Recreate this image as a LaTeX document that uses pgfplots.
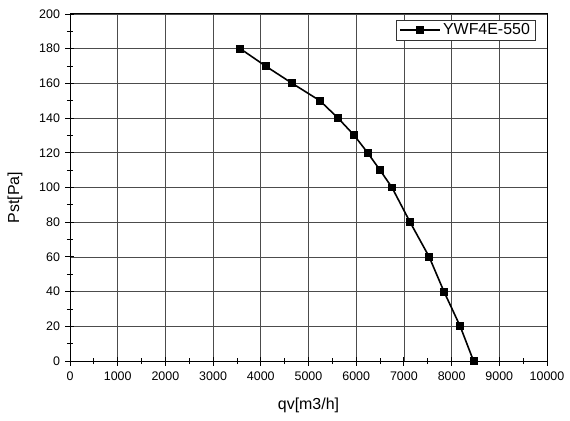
\documentclass[border=0pt]{standalone}
\usepackage{fontspec}
\setmainfont{Liberation Sans}
\usepackage{pgfplots}
\pgfplotsset{compat=1.18}
\begin{document}
\begin{tikzpicture}
\begin{axis}[
    name=ax,
    scale only axis,
    width=477bp,
    height=347bp,
    xmin=0, xmax=10000,
    ymin=0, ymax=200,
    xtick distance=1000,
    ytick distance=20,
    minor x tick num=1,
    minor y tick num=1,
    xtick pos=bottom,
    ytick pos=left,
    tick align=center,
    major tick length=9bp,
    minor tick length=6bp,
    every tick/.style={black, line width=0.9pt},
    grid=major,
    major grid style={black!70, line width=0.8pt},
    axis line style={black, line width=1pt},
    scaled x ticks=false,
    /pgf/number format/assume math mode=true,
    /pgf/number format/set thousands separator={},
    tick label style={font=\fontsize{12.5}{14}\selectfont},
    xticklabel style={yshift=-3bp},
    yticklabel style={xshift=-2bp},
    xlabel={qv[m3/h]},
    ylabel={Pst[Pa]},
    xlabel style={yshift=-10bp},
    ylabel style={yshift=10bp, xshift=-10bp},
    label style={font=\fontsize{16}{19}\selectfont},
    legend style={at={(rel axis cs:0.975,0.983)}, anchor=north east,
        draw=black!80, font=\fontsize{16}{19}\selectfont,
        inner xsep=3bp, inner ysep=1.5bp},
    legend cell align=left,
    legend image code/.code={%
        \draw[mark repeat=2, mark phase=2, #1, line width=1.6pt]
        plot coordinates {(0bp,0bp) (20bp,0bp) (40bp,0bp)};},
]
\addplot [black, line width=1.6pt, mark=square*, mark size=3.2bp,
    mark options={solid}]
coordinates {
    (3570,180) (4100,170) (4660,160) (5240,150) (5620,140)
    (5960,130) (6240,120) (6500,110) (6750,100) (7130,80)
    (7530,60) (7840,40) (8180,20) (8460,0)
};
\addlegendentry{YWF4E-550}
\end{axis}
\pgfresetboundingbox
\path (ax.south west) ++(-70bp,-60bp) coordinate (bl);
\path (ax.north east) ++(23bp,14bp) coordinate (tr);
\path[use as bounding box] (bl) rectangle (tr);
\end{tikzpicture}
\end{document}
